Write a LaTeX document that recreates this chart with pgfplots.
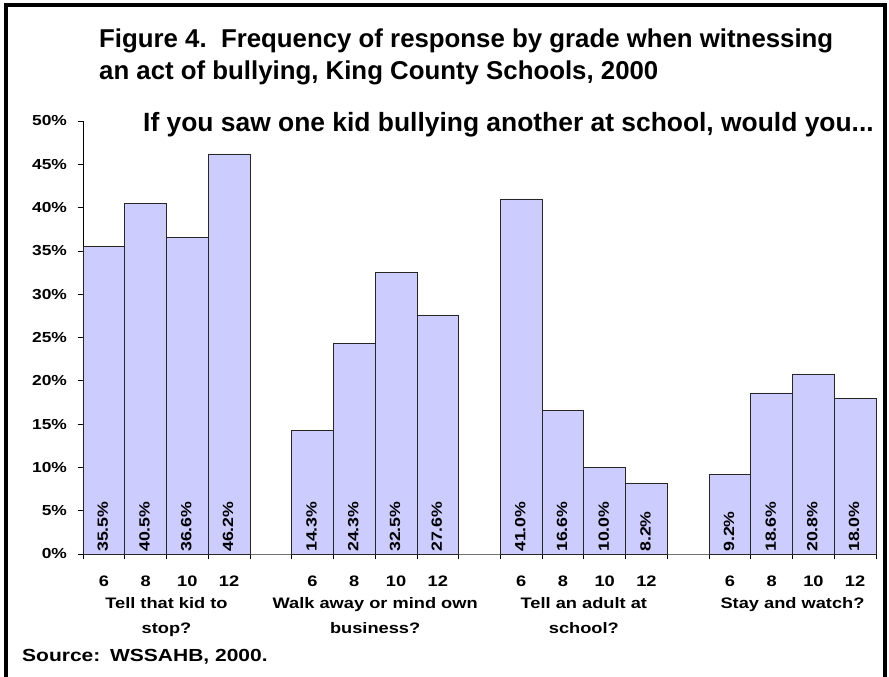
\documentclass[border=0pt]{standalone}
\usepackage{fontspec}
\setmainfont{Liberation Sans}
\newfontfamily\wide[FakeStretch=1.2]{Liberation Sans}
\usepackage{pgfplots}
\usepackage{pgfplotstable}
\pgfplotsset{compat=1.18}
\definecolor{barfill}{HTML}{CCCCFF}

% slot positions: 4 grades per group, one empty slot between groups
\pgfplotstableread{
x v
0 35.5
1 40.5
2 36.6
3 46.2
5 14.3
6 24.3
7 32.5
8 27.6
10 41.0
11 16.6
12 10.0
13 8.2
15 9.2
16 18.6
17 20.8
18 18.0
}\datatable

\newcommand{\lblfont}{\wide\fontsize{15.2}{17}\selectfont\bfseries}
\newcommand{\yfont}{\wide\fontsize{14.5}{16}\selectfont\bfseries}

\begin{document}
\begin{tikzpicture}[x=1pt,y=1pt]
\useasboundingbox (0,0) rectangle (889,677);
\fill[white] (0,0) rectangle (889,677);
\draw[line width=3.5pt] (6,-10) -- (6,672) -- (885,672) -- (885,-10);

\begin{axis}[
  at={(83pt,123pt)}, anchor=south west,
  scale only axis, width=793pt, height=433pt,
  xmin=-0.5, xmax=18.5, ymin=0, ymax=50,
  axis x line*=bottom, axis y line*=left,
  x axis line style={draw=black!55, line width=0.9pt, -},
  y axis line style={draw=black, line width=0.7pt, -},
  /pgf/number format/assume math mode=true,
  ytick={0,5,...,50},
  yticklabel={\pgfmathprintnumber{\tick}\%},
  yticklabel style={font=\yfont, xshift=-7pt},
  xtick={-0.5,0.5,...,18.5}, xticklabels={},
  tick align=outside, major tick length=5.5pt,
  tick style={black, line width=0.7pt},
  extra x ticks={0,1,2,3,5,6,7,8,10,11,12,13,15,16,17,18},
  extra x tick labels={6,8,10,12,6,8,10,12,6,8,10,12,6,8,10,12},
  extra x tick style={major tick length=0pt,
    xticklabel style={font=\lblfont, yshift=-18pt}},
  clip=false,
]
\addplot[ybar, bar width=1, fill=barfill, draw=black!85, line width=0.7pt]
  table[x=x, y=v] {\datatable};
\addplot[draw=none, mark=none,
  point meta=\thisrow{v},
  nodes near coords={\pgfmathprintnumber[fixed,fixed zerofill,precision=1]{\pgfplotspointmeta}\%},
  every node near coord/.append style={rotate=90, anchor=west,
    font=\wide\fontsize{14.8}{16}\selectfont\bfseries, inner sep=2pt, yshift=1pt}]
  table[x=x, y expr=0] {\datatable};

\node[anchor=base, font=\lblfont] at ([yshift=-55pt]axis cs:1.5,0) {Tell that kid to};
\node[anchor=base, font=\lblfont] at ([yshift=-80pt]axis cs:1.5,0) {stop?};
\node[anchor=base, font=\lblfont] at ([yshift=-55pt]axis cs:6.5,0) {Walk away or mind own};
\node[anchor=base, font=\lblfont] at ([yshift=-80pt]axis cs:6.5,0) {business?};
\node[anchor=base, font=\lblfont] at ([yshift=-55pt]axis cs:11.5,0) {Tell an adult at};
\node[anchor=base, font=\lblfont] at ([yshift=-80pt]axis cs:11.5,0) {school?};
\node[anchor=base, font=\lblfont] at ([yshift=-55pt]axis cs:16.5,0) {Stay and watch?};
\end{axis}

\node[anchor=base west, inner sep=0pt, font=\fontsize{25.8}{32}\selectfont\bfseries]
  at (99,629) {Figure 4.\hspace{0.556em}Frequency of response by grade when witnessing};
\node[anchor=base west, inner sep=0pt, font=\fontsize{25.8}{32}\selectfont\bfseries]
  at (99,597) {an act of bullying, King County Schools, 2000};
\node[anchor=base west, inner sep=0pt, font=\fontsize{26.4}{30}\selectfont\bfseries]
  at (143,545) {If you saw one kid bullying another at school, would you...};
\node[anchor=base west, inner sep=0pt, font=\wide\fontsize{17.5}{20}\selectfont\bfseries]
  at (22,15) {Source:\hspace{0.556em}WSSAHB, 2000.};
\end{tikzpicture}
\end{document}
